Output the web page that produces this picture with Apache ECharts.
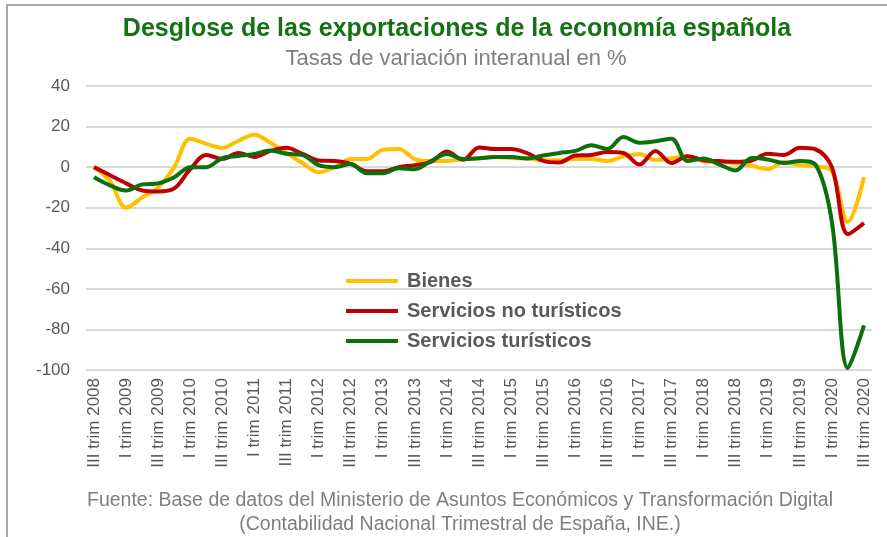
<!DOCTYPE html>
<html>
<head>
<meta charset="utf-8">
<script src="https://cdn.jsdelivr.net/npm/echarts@6/dist/echarts.min.js"></script>
<style>
  html, body { margin: 0; padding: 0; background: #fff; }
  #chart { width: 887px; height: 537px; }
</style>
</head>
<body>
<div id="chart"></div>
<script>
// trimestres, de III trim 2008 a III trim 2020
var quarters = []
var roman = ['I', 'II', 'III', 'IV']
for (var y = 2008; y <= 2020; y++) {
  for (var q = 0; q < 4; q++) {
    if ((y === 2008 && q < 2) || (y === 2020 && q > 2)) continue
    quarters.push(roman[q] + ' trim ' + y)
  }
}

// Bienes
var bienes = [
  0, -7, -20, -15, -10, 0, 14, 11.5, 9.5, 13,
  16, 12, 7, 2, -2.5, 0, 4, 4, 8.5, 9,
  4, 3, 3, 4, 4.3, 5, 4.5, 4.3, 3.4, 3.4,
  4, 4, 3, 5.2, 6.5, 3.6, 4.4, 5.2, 2.8, 2.5,
  1.8, 0.7, -1, 2.5, 1, 0.5, -2, -27, -5
]
// Servicios no turísticos
var noTuristicos = [
  0, -4, -8, -11.5, -12, -10.5, -1, 6, 4, 7,
  5, 8, 9.5, 6.5, 3.3, 3, 1.6, -2, -2, 0,
  1, 2.6, 7.7, 3.6, 9.7, 8.9, 8.9, 6.9, 3.1, 2.3,
  5.7, 6, 7.5, 7, 1.3, 8, 2, 5.4, 3.4, 3,
  2.6, 3.3, 6.6, 6, 9.5, 8.7, 0, -33, -27.5
]
// Servicios turísticos
var turisticos = [
  -5, -9, -11.5, -8.5, -8, -5, 0, 0, 4.5, 5.5,
  6.5, 8.2, 6.6, 6, 1, 0, 1.5, -3, -3, -0.5,
  -1, 3, 6.5, 4, 4.4, 5, 5, 4.3, 5.7, 7,
  8, 10.8, 9, 14.8, 12, 12.8, 14, 3, 4.3, 1.3,
  -1.6, 4.5, 3.8, 2, 3, 1, -27, -99, -78
]

var seriesNames = ['Bienes', 'Servicios no turísticos', 'Servicios turísticos']
var seriesColors = ['#FFC000', '#C00000', '#0B700B']
var seriesData = [bienes, noTuristicos, turisticos]

var myChart = echarts.init(document.getElementById('chart'))
var option = {
  animation: false,
  color: seriesColors,
  title: [
    {
      text: 'Desglose de las exportaciones de la economía española',
      left: 452,
      top: 12,
      textAlign: 'center',
      textStyle: {
        color: '#137313',
        fontSize: 25,
        fontWeight: 'bold',
        fontFamily: 'Liberation Sans, Arial, sans-serif',
      },
    },
    {
      text: 'Tasas de variación interanual en %',
      left: 451,
      top: 43,
      textAlign: 'center',
      textStyle: {
        color: '#7f7f7f',
        fontSize: 22,
        fontWeight: 'normal',
        fontFamily: 'Liberation Sans, Arial, sans-serif',
      },
    },
    {
      text: 'Fuente: Base de datos del Ministerio de Asuntos Económicos y Transformación Digital\n(Contabilidad Nacional Trimestral de España, INE.)',
      left: 455,
      top: 484,
      textAlign: 'center',
      textStyle: {
        color: '#7f7f7f',
        fontSize: 19.5,
        lineHeight: 24,
        fontWeight: 'normal',
        fontFamily: 'Liberation Sans, Arial, sans-serif',
        align: 'center',
      },
    },
  ],
  // marco del gráfico
  graphic: [
    {
      type: 'rect',
      shape: { x: 7, y: 5, width: 900, height: 600 },
      style: { fill: 'none', stroke: '#8c8c8c', lineWidth: 1.5 },
      silent: true,
    },
  ],
  legend: {
    orient: 'vertical',
    left: 341,
    top: 266,
    itemWidth: 52,
    itemHeight: 4,
    itemGap: 10,
    icon: 'rect',
    data: seriesNames,
    textStyle: {
      color: '#595959',
      fontSize: 20,
      fontWeight: 'bold',
      lineHeight: 20,
      fontFamily: 'Liberation Sans, Arial, sans-serif',
      padding: [0, 0, 0, 4],
    },
  },
  grid: {
    left: 86,
    right: 15,
    top: 86,
    bottom: 167,
    containLabel: false,
  },
  xAxis: {
    type: 'category',
    data: quarters,
    boundaryGap: true,
    axisTick: { show: false },
    axisLine: { show: false },
    axisLabel: {
      rotate: 90,
      interval: 1,
      margin: 8,
      color: '#595959',
      fontSize: 17,
      fontFamily: 'Liberation Sans, Arial, sans-serif',
    },
  },
  yAxis: {
    type: 'value',
    min: -100,
    max: 40,
    interval: 20,
    axisLine: { show: false },
    axisTick: { show: false },
    axisLabel: {
      margin: 16,
      color: '#595959',
      fontSize: 17,
      fontFamily: 'Liberation Sans, Arial, sans-serif',
    },
    splitLine: {
      lineStyle: { color: '#d9d9d9', width: 2 },
    },
  },
  series: seriesNames.map(function (name, i) {
    return {
      name: name,
      type: 'line',
      data: seriesData[i],
      smooth: 0.35,
      symbol: 'none',
      lineStyle: { width: 4, color: seriesColors[i] },
      itemStyle: { color: seriesColors[i] },
    }
  }),
}
myChart.setOption(option)
</script>
</body>
</html>
